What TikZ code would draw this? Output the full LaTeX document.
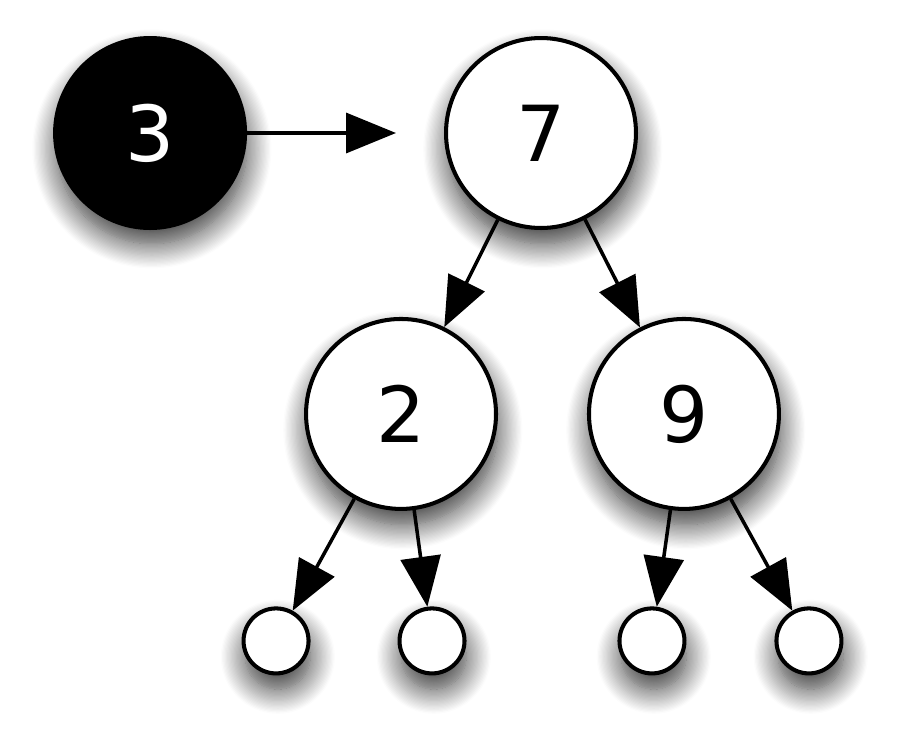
\documentclass[tikz,border=0pt]{standalone}
\usepackage{fontspec}
\setmainfont{DejaVu Sans}
\usepackage{tikz}
\usetikzlibrary{positioning,arrows.meta,shadows.blur}

\begin{document}
\begin{tikzpicture}[x=0.02cm, y=-0.02cm, on grid, >={Triangle[length=10mm,width=8mm]},
	treenode/.style={draw=black, circle, line width=2.3pt, fill=white, minimum size=3.8cm, inner sep=0pt,
		font=\fontsize{44}{50}\selectfont,
		blur shadow={shadow xshift=1pt, shadow yshift=-9pt, shadow blur radius=14pt, shadow blur steps=20, shadow opacity=80}},
	rootnode/.style={treenode, fill=black, text=white},
	leafnode/.style={treenode, minimum size=1.3cm},
	treeLine/.style={line width=2pt, ->, color=black}
	]
	\useasboundingbox (0,0) rectangle (900,748);

	\node[treenode] (seven) at (541,133) {7};
	\node[rootnode, left = 7.82cm of seven] (three) {3};
	\draw [treeLine, shorten >=0.96cm] (three) to [] (seven);

	\node[treenode, below left = 5.62cm and 2.8cm of seven] (two) {2};
	\node[treenode, below right = 5.62cm and 2.86cm of seven] (nine) {9};
	\draw [treeLine] (seven) to [] (two);
	\draw [treeLine] (seven) to [] (nine);

	\node[leafnode, below left = 4.54cm and 2.5cm of two] (twoleft) {};
	\node[leafnode, below right = 4.54cm and 0.62cm of two] (tworight) {};
	\draw [treeLine] (two) to [] (twoleft);
	\draw [treeLine] (two) to [] (tworight);

	\node[leafnode, below left = 4.54cm and 0.64cm of nine] (nineleft) {};
	\node[leafnode, below right = 4.54cm and 2.5cm of nine] (nineright) {};
	\draw [treeLine] (nine) to [] (nineleft);
	\draw [treeLine] (nine) to [] (nineright);
\end{tikzpicture}
\end{document}
